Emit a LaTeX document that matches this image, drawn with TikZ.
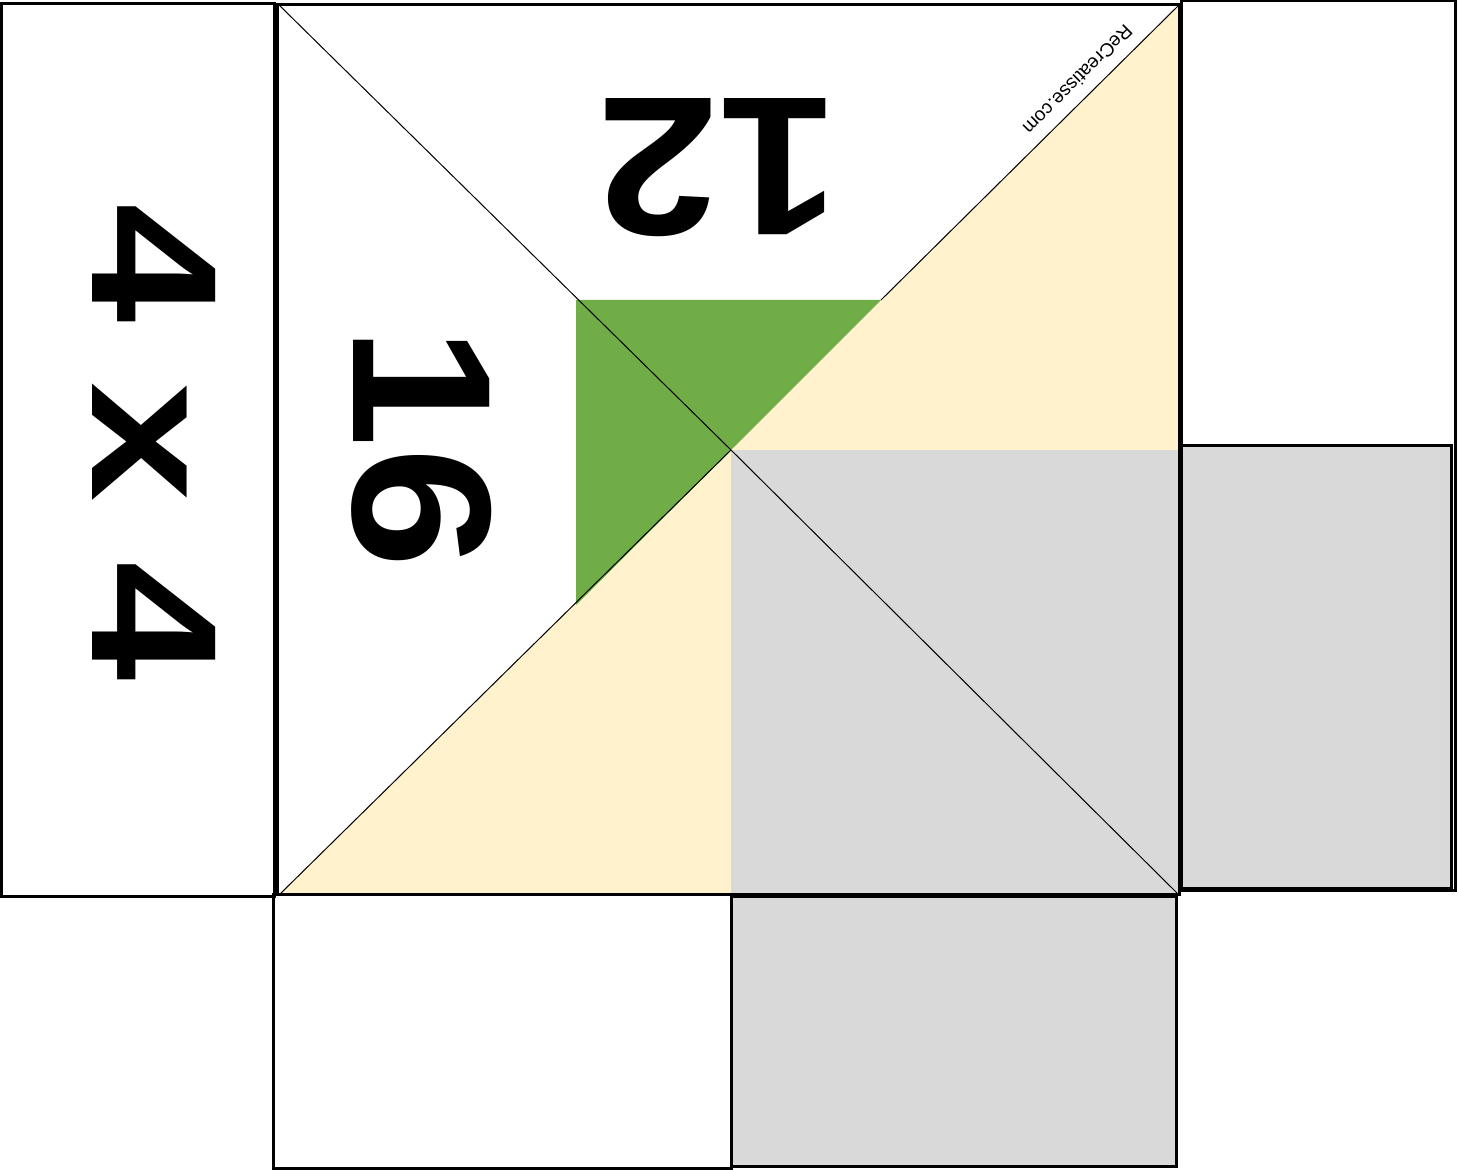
\documentclass[tikz,border=0pt]{standalone}
\usepackage{fontspec}
\usepackage{graphicx}
\setmainfont{Liberation Sans}
\definecolor{beige}{HTML}{FFF2CC}
\definecolor{greyf}{HTML}{D9D9D9}
\definecolor{leaf}{HTML}{70AD47}
\begin{document}
\begin{tikzpicture}[x=0.5pt,y=-0.5pt,
  edge/.style={line width=1.5pt},
  fineline/.style={line width=0.5pt},
  bignum/.style={inner sep=0pt, font=\bfseries\fontsize{99}{99}\selectfont},
  bigfour/.style={inner sep=0pt, font=\bfseries\fontsize{89.5}{89.5}\selectfont},
  sitelabel/.style={inner sep=0pt, font=\fontsize{9.5}{9.5}\selectfont}]
\useasboundingbox (0,0) rectangle (1458,1170);
\fill[white] (0,0) rectangle (1458,1170);
% coloured pieces of the square
\fill[beige] (731,450) -- (1179,5) -- (1179,450) -- cycle;
\fill[beige] (731,450) -- (279,895) -- (731,895) -- cycle;
\fill[greyf] (731,450) -- (1179,450) -- (1179,895) -- (731,895) -- cycle;
\fill[leaf] (576,300) -- (881,300) -- (731,450) -- (576,605) -- cycle;
% diagonals
\draw[fineline] (279,5) -- (731,450) -- (1179,895);
\draw[fineline] (1179,5) -- (881,300);
\draw[fineline] (731,450) -- (279,895);
% panels
\draw[edge] (1,4) rectangle (274,897);
\draw[edge] (277,5) rectangle (1179,895);
\draw[edge] (1181,1) rectangle (1455,891);
\draw[edge, fill=greyf] (1181,446) rectangle (1451,889);
\draw[edge] (273,895) rectangle (731,1168);
\draw[edge, fill=greyf] (731,897) rectangle (1176,1166);
% texts
\node[bigfour, rotate=-90] (fourbyfour) at (154,442) {\scalebox{1.2}[1]{4 x 4}};
\node[bignum, rotate=-90] (sixteen) at (422,448) {\scalebox{1.1}[1]{16}};
\node[bignum, rotate=180] (twelve) at (718,168) {\scalebox{1.1}[1]{12}};
\node[sitelabel, rotate=225] (site) at (1078,80) {ReCreatisse.com};
\end{tikzpicture}
\end{document}
